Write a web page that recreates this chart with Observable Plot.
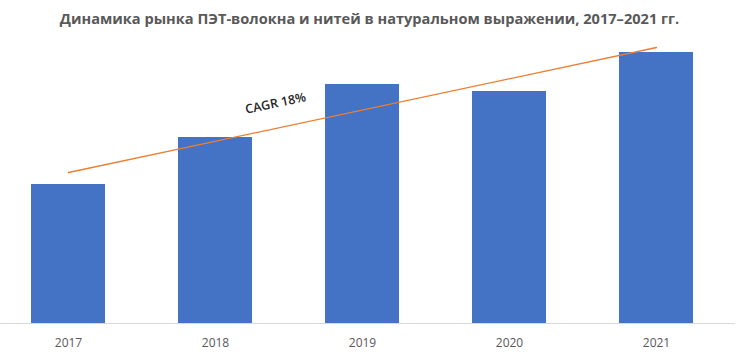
<!DOCTYPE html>
<html>
<head>
<meta charset="utf-8">
<script src="https://cdn.jsdelivr.net/npm/d3@7"></script>
<script src="https://cdn.jsdelivr.net/npm/@observablehq/plot@0.6"></script>
<style>
  html, body { margin: 0; padding: 0; background: #fff; }
  #chart { width: 745px; height: 352px; overflow: hidden; }
  #title { height: 36px; line-height: 36px; text-align: center; font-family: "Open Sans", sans-serif; font-weight: 700; font-size: 14.6px; color: #595959; white-space: nowrap; padding-right: 6px; }
</style>
</head>
<body>
<div id="chart">
  <div id="title">Динамика рынка ПЭТ-волокна и нитей в натуральном выражении, 2017–2021 гг.</div>
</div>
<script>
const years = ["2017", "2018", "2019", "2020", "2021"];
const volumes = [139, 186, 239, 232, 271];
const trendYears = ["2017", "2021"];
const trendValues = [151, 276];
const cagrLabel = "CAGR 18%";

const bars = years.map((y, i) => ({year: y, value: volumes[i]}));
const trend = trendYears.map((y, i) => ({year: y, value: trendValues[i]}));

const plot = Plot.plot({
  width: 745,
  height: 316,
  marginLeft: 0,
  marginRight: 10,
  marginTop: 7,
  marginBottom: 29,
  style: {fontFamily: "'Open Sans', sans-serif", fontSize: "12px", color: "#595959", background: "#fff"},
  x: {domain: years, range: [-2, 726], paddingInner: 0.5, paddingOuter: 0.2095, label: null, tickSize: 0, tickPadding: 15},
  y: {domain: [0, 280], axis: null},
  marks: [
    Plot.barY(bars, {x: "year", y: "value", fill: "#4472C4"}),
    Plot.ruleY([0], {stroke: "#d9d9d9", strokeWidth: 1}),
    Plot.line(trend, {x: "year", y: "value", stroke: "#ED7D31", strokeWidth: 1.3}),
    Plot.text([cagrLabel], {x: () => "2018", y: () => 220, dx: 60, text: d => d, rotate: -12, fill: "#262626", fontSize: 12.5, fontWeight: 600})
  ]
});
document.getElementById("chart").appendChild(plot);
</script>
</body>
</html>
